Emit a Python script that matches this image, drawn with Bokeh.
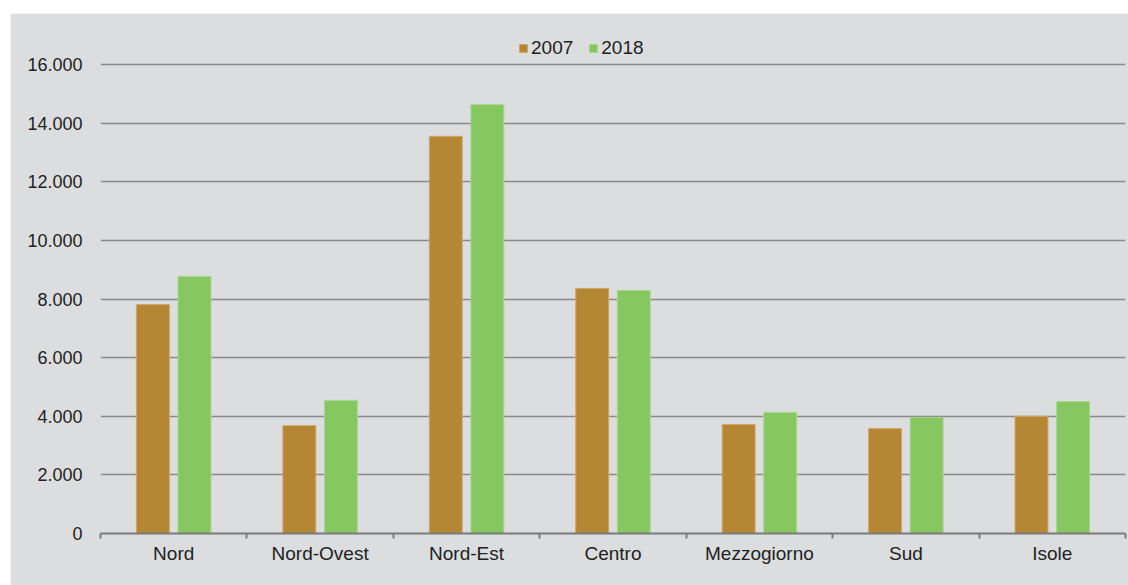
from bokeh.plotting import figure
from bokeh.models import ColumnDataSource, FixedTicker, Range1d, Legend, LegendItem, Spacer
from bokeh.layouts import column, row
from bokeh.embed import file_html
from bokeh.resources import INLINE

categories = ["Nord", "Nord-Ovest", "Nord-Est", "Centro", "Mezzogiorno", "Sud", "Isole"]
v2007 = [7810, 3680, 13550, 8360, 3720, 3580, 4000]
v2018 = [8770, 4540, 14630, 8290, 4130, 3960, 4500]
y_ticks = [0, 2000, 4000, 6000, 8000, 10000, 12000, 14000, 16000]
y_tick_labels = ["0", "2.000", "4.000", "6.000", "8.000", "10.000", "12.000", "14.000", "16.000"]

BG = "#dcdddf"
C2007 = "#b58735"
C2018 = "#86c762"
FONT = "Liberation Sans"
TXT = "#222222"

centers = [i + 0.5 for i in range(len(categories))]
src = ColumnDataSource(dict(
    x07=[c - 0.142 for c in centers],
    x18=[c + 0.142 for c in centers],
    v07=v2007, v18=v2018,
))

p = figure(width=1118, height=572, output_backend="svg", toolbar_location=None,
           x_range=Range1d(0, len(categories)), y_range=Range1d(0, 17160),
           min_border_left=90, min_border_right=3, min_border_top=17, min_border_bottom=52)
p.background_fill_color = BG
p.border_fill_color = BG
p.outline_line_color = BG
p.outline_line_width = 2

r07 = p.vbar(x="x07", top="v07", width=0.225, source=src, fill_color=C2007, line_color="#cfa86a", line_width=1)
r18 = p.vbar(x="x18", top="v18", width=0.225, source=src, fill_color=C2018, line_color="#a6d98a", line_width=1)

# x axis
p.xaxis.ticker = FixedTicker(ticks=centers, minor_ticks=list(range(len(categories) + 1)))
p.xaxis.major_label_overrides = {c: n for c, n in zip(centers, categories)}
p.xaxis.major_tick_line_color = None
p.xaxis.major_tick_out = 0
p.xaxis.major_tick_in = 0
p.xaxis.minor_tick_line_color = "#7a7a7a"
p.xaxis.minor_tick_line_width = 2
p.xaxis.minor_tick_out = 5
p.xaxis.minor_tick_in = 0
p.xaxis.axis_line_color = "#7a7a7a"
p.xaxis.axis_line_width = 2
p.xaxis.major_label_text_font = FONT
p.xaxis.major_label_text_font_size = "19px"
p.xaxis.major_label_text_color = TXT
p.xaxis.major_label_standoff = 4
p.xgrid.grid_line_color = None

# y axis
p.yaxis.ticker = FixedTicker(ticks=y_ticks)
p.yaxis.major_label_overrides = {t: l for t, l in zip(y_ticks, y_tick_labels)}
p.yaxis.axis_line_color = None
p.yaxis.major_tick_line_color = None
p.yaxis.major_tick_out = 0
p.yaxis.major_tick_in = 0
p.yaxis.minor_tick_line_color = None
p.yaxis.major_label_text_font = FONT
p.yaxis.major_label_text_font_size = "18px"
p.yaxis.major_label_text_color = TXT
p.yaxis.major_label_standoff = 18
p.ygrid.grid_line_color = "#8a8a8a"
p.ygrid.grid_line_width = 1.5

legend = Legend(items=[LegendItem(label="2007", renderers=[r07]), LegendItem(label="2018", renderers=[r18])],
                location=(418, 474), orientation="horizontal",
                glyph_width=10, glyph_height=10, label_standoff=3, spacing=15,
                padding=0, margin=0, background_fill_alpha=0, border_line_color=None,
                label_text_font=FONT, label_text_font_size="19px", label_text_color=TXT)
p.add_layout(legend)

layout = row(Spacer(width=10, height=585), column(Spacer(height=13, width=1118), p, spacing=0), spacing=0)
open("out.html", "w").write(file_html(layout, INLINE))
